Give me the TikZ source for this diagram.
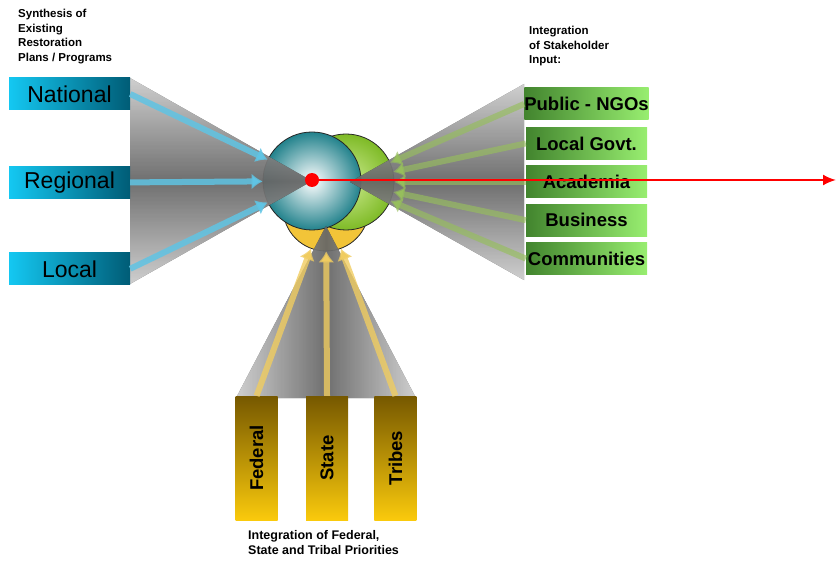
\documentclass[tikz,border=0pt]{standalone}
\usepackage{fontspec}
\setmainfont{Liberation Sans}
\usetikzlibrary{positioning}
\usetikzlibrary{arrows.meta, shapes, backgrounds, calc}

\definecolor{cyanL}{RGB}{20,200,242}
\definecolor{cyanD}{RGB}{0,92,118}
\definecolor{grnD}{RGB}{66,132,46}
\definecolor{grnL}{RGB}{152,238,112}
\definecolor{goldD}{RGB}{118,88,0}
\definecolor{goldL}{RGB}{250,202,12}
\definecolor{tealE}{RGB}{34,130,140}
\definecolor{limeE}{RGB}{126,186,38}
\definecolor{limeI}{RGB}{206,236,146}
\definecolor{sunE}{RGB}{242,196,56}
\definecolor{arrBlue}{RGB}{96,196,228}
\definecolor{arrGrn}{RGB}{150,190,92}
\definecolor{arrGold}{RGB}{240,204,96}
\definecolor{shade}{RGB}{128,128,128}

\begin{document}
\begin{tikzpicture}[x=1pt, y=-1pt, >=latex, font=\fontsize{11.5}{14.5}\selectfont]%

            \tikzstyle{heading} = [ align=left, font=\bfseries\fontsize{11.5}{14.5}\selectfont, inner sep=0pt]
            \tikzstyle{bluebox} = [ rectangle, left color=cyanL, right color=cyanD, minimum width=121pt, minimum height=32pt, inner sep=0pt, font=\fontsize{23}{23}\selectfont]
            \tikzstyle{grnbox} = [ rectangle, left color=grnD, right color=grnL, minimum width=121pt, minimum height=32pt, inner sep=0pt, font=\bfseries\fontsize{18.5}{18.5}\selectfont]
            \tikzstyle{goldbox} = [ rectangle, top color=goldD, bottom color=goldL, minimum width=42pt, minimum height=124pt, inner sep=0pt, font=\bfseries\fontsize{18.5}{18.5}\selectfont]
            \tikzstyle{ball} = [ circle, draw=black!85, thick, inner sep=0pt]
            \tikzstyle{fan} = [ fill opacity=0.75, draw=none]
            \tikzstyle{bluearrow} = [ draw=arrBlue, line width=6pt, draw opacity=0.85, -{Latex[length=11pt,width=16pt]}]
            \tikzstyle{grnarrow} = [ draw=arrGrn, line width=6pt, draw opacity=0.65, -{Latex[length=11pt,width=16pt]}]
            \tikzstyle{goldarrow} = [ draw=arrGold, line width=6pt, draw opacity=0.8, -{Latex[length=11pt,width=16pt]}]

            \useasboundingbox (0,0) rectangle (837,561);

            %% Centre circles
            \node [ball, fill=sunE, minimum size=86pt] (sun) at (326,208) {};
            \node [ball, inner color=limeI, outer color=limeE, minimum size=96pt] (lime) at (346,182) {};
            \node [ball, inner color=white, outer color=tealE, minimum size=98pt] (teal) at (312,181) {};

            %% Shadows
            \fill [fan, top color=white, bottom color=white, middle color=shade] (130,78) -- (312,181) -- (130,284) -- cycle;
            \fill [fan, top color=white, bottom color=white, middle color=shade] (524,84) -- (350,182) -- (524,280) -- cycle;
            \fill [fan, left color=white, right color=white, middle color=shade] (236,398) -- (326,226) -- (416,398) -- cycle;

            \begin{scope}[node distance = 56pt and 6pt]%
                %% Plans / programs
                \node [heading, anchor=north west] (synth) at (18,9) {Synthesis of\\Existing\\Restoration\\Plans / Programs};
                \node [bluebox] (national) at (69.5,94) {National};
                \node [bluebox] (regional) [below = of national] {Regional};
                \node [bluebox] (local) [below = 54pt of regional] {Local};

                \draw [bluearrow] (national.east) -- (teal);
                \draw [bluearrow] (regional.east) -- (teal);
                \draw [bluearrow] (local.east) -- (teal);

                %% Stakeholders
                \node [heading, anchor=north west] (stake) at (529,26) {Integration\\of Stakeholder\\Input:};
                \node [grnbox] (ngo) at (586.5,104) {Public - NGOs};
                \node [grnbox] (govt) [below = 7pt of ngo] {Local Govt.};
                \node [grnbox] (acad) [below = 6pt of govt] {Academia};
                \node [grnbox] (biz) [below = 6pt of acad] {Business};
                \node [grnbox] (comm) [below = 6pt of biz] {Communities};

                \draw [grnarrow] (ngo.west) -- (lime);
                \draw [grnarrow] (govt.west) -- (lime);
                \draw [grnarrow] (acad.west) -- (lime);
                \draw [grnarrow] (biz.west) -- (lime);
                \draw [grnarrow] (comm.west) -- (lime);

                %% Priorities
                \node [goldbox] (state) at (327,458) {\rotatebox{90}{State}};
                \node [goldbox] (federal) [left = 28pt of state] {\rotatebox{90}{Federal}};
                \node [goldbox] (tribes) [right = 26pt of state] {\rotatebox{90}{Tribes}};
                \node [heading, anchor=north west, font=\bfseries\fontsize{12.5}{15.5}\selectfont] (prio) at (248,530) {Integration of Federal,\\State and Tribal Priorities};

                \draw [goldarrow] (federal.north) -- (sun);
                \draw [goldarrow] (state.north) -- (sun);
                \draw [goldarrow] (tribes.north) -- (sun);

                %% Pointer
                \node [circle, fill=red, minimum size=14pt, inner sep=0pt] (dot) at (312,180) {};
                \coordinate (tip) at (836,180);
                \draw [red, line width=2pt, -{Latex[length=13pt,width=11pt]}] (dot.center) -- (tip);
            \end{scope}%
        \end{tikzpicture}
\end{document}
